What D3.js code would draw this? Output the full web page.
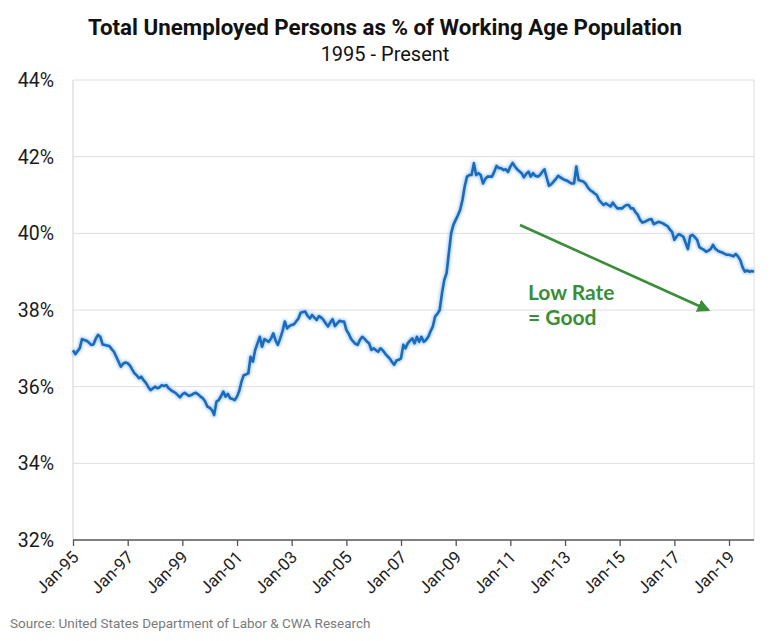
<!DOCTYPE html>
<html>
<head>
<meta charset="utf-8">
<script src="https://cdn.jsdelivr.net/npm/d3@7"></script>
<style>
  body { margin: 0; background: #fff; }
  svg { display: block; }
</style>
</head>
<body>
<div id="chart"></div>
<script>
// monthly values, % of working age population, Jan of first year .. Dec of last
var rate1995_1999 = [
  36.95, 36.85, 36.92, 37.0, 37.24, 37.22, 37.2, 37.15, 37.09, 37.1, 37.25, 37.35,
  37.3, 37.1, 37.09, 37.07, 37.06, 36.98, 36.91, 36.78, 36.65, 36.52, 36.6, 36.63,
  36.61, 36.55, 36.45, 36.35, 36.3, 36.22, 36.26, 36.17, 36.1, 36.0, 35.91, 35.95,
  36.0, 35.96, 35.98, 36.04, 36.02, 36.04, 35.96, 35.91, 35.87, 35.84, 35.78, 35.72,
  35.8, 35.84, 35.8, 35.76, 35.78, 35.82, 35.84, 35.8, 35.74, 35.7, 35.62, 35.48
];
var rate2000_2004 = [
  35.45, 35.39, 35.26, 35.61, 35.65, 35.75, 35.87, 35.74, 35.81, 35.7, 35.68, 35.65,
  35.74, 35.9, 36.13, 36.3, 36.32, 36.35, 36.78, 36.65, 36.96, 37.13, 37.3, 37.04,
  37.24, 37.2, 37.17, 37.26, 37.39, 37.2, 37.09, 37.26, 37.45, 37.7, 37.52, 37.58,
  37.61, 37.63, 37.7, 37.78, 37.93, 37.95, 37.96, 37.85, 37.78, 37.87, 37.8, 37.74,
  37.84, 37.8, 37.74, 37.65, 37.57, 37.68, 37.76, 37.58, 37.65, 37.72, 37.7, 37.7
];
var rate2005_2009 = [
  37.48, 37.38, 37.26, 37.18, 37.12, 37.09, 37.22, 37.3, 37.25, 37.18, 37.13, 36.96,
  37.0, 36.95, 36.91, 37.0, 36.95, 36.87, 36.8, 36.74, 36.65, 36.57, 36.68, 36.7,
  36.74, 37.09, 37.0, 37.13, 37.2, 37.26, 37.13, 37.3, 37.17, 37.3, 37.17, 37.22,
  37.3, 37.45, 37.57, 37.83, 37.9, 38.0, 38.43, 38.78, 38.96, 39.48, 40.0, 40.22,
  40.35, 40.48, 40.61, 40.87, 41.22, 41.48, 41.52, 41.52, 41.83, 41.52, 41.57, 41.52
];
var rate2010_2014 = [
  41.3, 41.42, 41.48, 41.48, 41.48, 41.61, 41.76, 41.7, 41.7, 41.65, 41.67, 41.6,
  41.74, 41.84, 41.75, 41.67, 41.62, 41.57, 41.46, 41.55, 41.61, 41.48, 41.57, 41.5,
  41.48, 41.52, 41.6, 41.67, 41.45, 41.24, 41.28, 41.35, 41.42, 41.5, 41.46, 41.42,
  41.39, 41.37, 41.33, 41.3, 41.3, 41.74, 41.39, 41.37, 41.35, 41.3, 41.2, 41.13,
  41.09, 41.04, 41.0, 40.87, 40.8, 40.74, 40.78, 40.74, 40.7, 40.8, 40.72, 40.65
];
var rate2015_2019 = [
  40.65, 40.65, 40.7, 40.74, 40.74, 40.65, 40.65, 40.55, 40.48, 40.35, 40.28, 40.3,
  40.33, 40.36, 40.37, 40.24, 40.27, 40.3, 40.28, 40.26, 40.22, 40.19, 40.1, 40.04,
  39.83, 39.92, 39.98, 39.95, 39.91, 39.75, 39.59, 39.93, 39.96, 39.9, 39.83, 39.64,
  39.6, 39.57, 39.52, 39.55, 39.59, 39.7, 39.6, 39.55, 39.52, 39.5, 39.47, 39.44,
  39.44, 39.42, 39.4, 39.46, 39.4, 39.3, 39.12, 39.0, 39.03, 39.0, 39.02, 39.0
];

var firstMonth = new Date(1995, 0, 1);
var tickLabels = ["Jan-95","Jan-97","Jan-99","Jan-01","Jan-03","Jan-05","Jan-07",
                  "Jan-09","Jan-11","Jan-13","Jan-15","Jan-17","Jan-19"];
var yTicks = [32, 34, 36, 38, 40, 42, 44];

var title = "Total Unemployed Persons as % of Working Age Population";
var subtitle = "1995 - Present";
var note = ["Low Rate", "= Good"];
var source = "Source: United States Department of Labor & CWA Research";

var width = 770, height = 641;
var margin = {top: 80, right: 16, bottom: 101, left: 73};

var values = rate1995_1999.concat(rate2000_2004, rate2005_2009, rate2010_2014, rate2015_2019);
var data = values.map(function(v, i) {
  return {date: new Date(firstMonth.getFullYear(), firstMonth.getMonth() + i, 1), value: v};
});

var svg = d3.select("#chart").append("svg")
  .attr("width", width).attr("height", height);

var defs = svg.append("defs");
defs.append("filter").attr("id", "glow")
  .attr("x", "-5%").attr("y", "-5%").attr("width", "110%").attr("height", "110%")
  .append("feGaussianBlur").attr("stdDeviation", 1.6);
defs.append("marker").attr("id", "arrow")
  .attr("viewBox", "0 0 10 10").attr("refX", 8).attr("refY", 5)
  .attr("markerWidth", 5).attr("markerHeight", 5).attr("orient", "auto")
  .append("path").attr("d", "M0,0 L10,5 L0,10 z").attr("fill", "#3a8e37");

var x = d3.scaleTime()
  .domain([firstMonth, data[data.length - 1].date])
  .range([margin.left, width - margin.right]);
var y = d3.scaleLinear()
  .domain([32, 44])
  .range([height - margin.bottom, margin.top]);

// title
svg.append("text")
  .attr("x", 385).attr("y", 35)
  .attr("text-anchor", "middle")
  .attr("textLength", 594).attr("lengthAdjust", "spacingAndGlyphs")
  .style("font-family", "Roboto, sans-serif").style("font-weight", 700)
  .style("font-size", "22px").attr("fill", "#111")
  .text(title);
svg.append("text")
  .attr("x", 385).attr("y", 61)
  .attr("text-anchor", "middle")
  .style("font-family", "Roboto, sans-serif")
  .style("font-size", "20px").attr("fill", "#111")
  .text(subtitle);

// grid
svg.append("g").selectAll("line")
  .data(yTicks.slice(1))
  .enter().append("line")
  .attr("x1", margin.left).attr("x2", width - margin.right)
  .attr("y1", function(d) { return y(d); }).attr("y2", function(d) { return y(d); })
  .attr("stroke", "#dedede").attr("stroke-width", 1);
svg.append("line")
  .attr("x1", width - margin.right).attr("x2", width - margin.right)
  .attr("y1", y(44)).attr("y2", y(32))
  .attr("stroke", "#dedede");
svg.append("line")
  .attr("x1", margin.left).attr("x2", margin.left)
  .attr("y1", y(44)).attr("y2", y(32))
  .attr("stroke", "#d0d0d0");

// y labels
svg.append("g").selectAll("text")
  .data(yTicks)
  .enter().append("text")
  .attr("x", 54).attr("y", function(d) { return y(d) + 7; })
  .attr("text-anchor", "end")
  .style("font-family", "Roboto, sans-serif").style("font-size", "19.5px")
  .attr("fill", "#1a1a1a")
  .text(function(d) { return d + "%"; });

// x axis
var tickDates = tickLabels.map(function(s) {
  return d3.timeParse("%b-%y")(s);
});
var xAxis = d3.axisBottom(x)
  .tickValues(tickDates)
  .tickSize(6)
  .tickFormat(d3.timeFormat("%b-%y"));
var gx = svg.append("g")
  .attr("transform", "translate(0," + y(32) + ")")
  .call(xAxis);
gx.select(".domain").attr("stroke", "#555").attr("stroke-width", 1.5)
  .attr("d", "M" + margin.left + ",0H" + (width - margin.right));
gx.selectAll(".tick line").attr("stroke", "#555").attr("stroke-width", 1.3);
gx.selectAll(".tick text")
  .style("font-family", "Roboto, sans-serif").style("font-size", "17px")
  .attr("fill", "#222")
  .attr("text-anchor", "end")
  .attr("transform", "translate(2,14) rotate(-45)")
  .attr("dy", "0.35em").attr("dx", 0).attr("y", 0).attr("x", 0);

// line
var line = d3.line()
  .x(function(d) { return x(d.date); })
  .y(function(d) { return y(d.value); });
svg.append("path").datum(data)
  .attr("d", line)
  .attr("fill", "none").attr("stroke", "#8fbde8").attr("stroke-width", 5)
  .attr("stroke-linejoin", "round").attr("opacity", 0.7)
  .attr("filter", "url(#glow)");
svg.append("path").datum(data)
  .attr("d", line)
  .attr("fill", "none").attr("stroke", "#1a6bbd").attr("stroke-width", 2.6)
  .attr("stroke-linejoin", "round");

// annotation
svg.append("line")
  .attr("x1", 520).attr("y1", 225).attr("x2", 708).attr("y2", 310)
  .attr("stroke", "#3a8e37").attr("stroke-width", 2.6)
  .attr("marker-end", "url(#arrow)");
svg.append("g").selectAll("text")
  .data(note)
  .enter().append("text")
  .attr("x", 528).attr("y", function(d, i) { return 300 + i * 25; })
  .style("font-family", "Lato, sans-serif").style("font-weight", 700)
  .style("font-size", "21px").attr("fill", "#3a8e37")
  .text(function(d) { return d; });

// source
svg.append("text")
  .attr("x", 10).attr("y", 628)
  .style("font-family", "Roboto, sans-serif").style("font-size", "13.5px")
  .attr("fill", "#7a7a7a")
  .text(source);
</script>
</body>
</html>
